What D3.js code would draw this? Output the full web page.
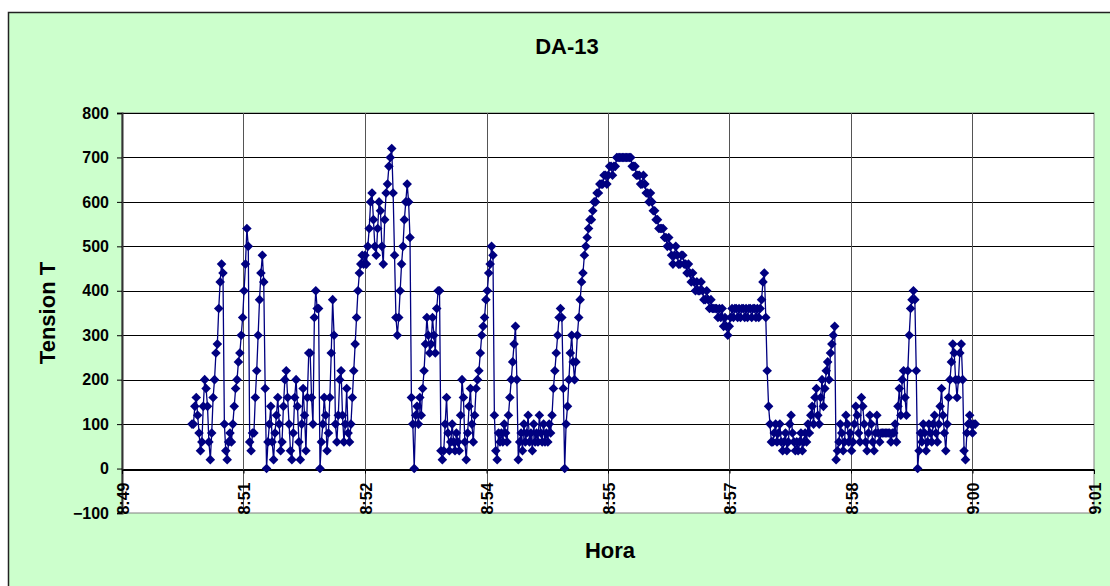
<!DOCTYPE html>
<html>
<head>
<meta charset="utf-8">
<script src="https://cdn.jsdelivr.net/npm/d3@7"></script>
<style>
  body { margin: 0; background: #fff; }
  text { font-family: Arial, "Liberation Sans", sans-serif; font-weight: bold; fill: #000; }
</style>
</head>
<body>
<div id="chart"></div>
<script>
// tension readings, one per second starting at 8:50:45
var tension = [
  100,100,140,160,120,80,40,60,140,200,
  180,140,60,20,80,160,200,260,280,360,
  420,460,440,100,40,20,60,80,60,100,
  140,180,200,240,260,300,340,400,460,540,
  500,60,40,80,80,160,220,300,380,440,
  480,420,180,0,60,100,140,60,20,80,
  120,160,100,40,60,140,200,220,160,100,
  40,20,80,160,200,140,60,20,100,180,
  120,40,160,260,260,160,100,340,400,360,
  360,0,60,100,160,120,40,80,160,260,
  380,300,100,60,120,200,220,120,60,100,
  180,80,60,100,160,220,280,340,400,440,
  460,480,460,480,460,500,540,600,620,560,
  500,480,540,600,580,500,460,560,620,640,
  680,700,720,620,480,340,300,340,400,460,
  500,560,600,640,600,520,160,100,0,120,
  140,100,160,120,180,220,280,340,300,260,
  280,340,300,260,360,400,400,40,20,40,
  100,160,80,40,60,100,60,40,80,60,
  40,120,200,160,60,20,80,140,180,100,
  60,120,180,200,220,260,300,320,340,380,
  400,440,460,500,480,120,40,20,80,60,
  80,60,100,80,60,120,160,200,240,280,
  320,200,20,60,80,40,100,60,80,120,
  60,80,40,100,60,80,60,120,80,60,
  100,60,80,60,100,80,120,180,220,260,
  300,340,360,340,180,0,100,140,200,260,
  300,240,200,240,300,340,380,420,440,480,
  500,520,540,560,560,580,600,600,620,620,
  640,640,640,660,660,640,660,680,680,660,
  680,680,700,700,700,700,700,700,700,700,
  700,700,700,680,680,680,660,660,660,640,
  640,660,640,620,620,600,620,600,580,580,
  560,560,540,540,540,540,520,520,500,520,
  500,480,460,480,500,480,460,460,480,480,
  460,460,440,460,440,420,440,420,400,420,
  400,400,420,400,380,380,400,380,360,380,
  360,360,360,360,340,360,340,360,320,340,
  320,300,320,340,360,340,360,360,340,360,
  340,360,360,340,360,340,360,360,340,360,
  360,340,360,340,360,380,420,440,340,220,
  140,100,60,60,80,100,60,80,100,60,
  40,60,80,40,60,100,120,80,60,40,
  60,40,60,80,40,60,80,60,100,80,
  120,140,100,160,180,120,100,160,200,140,
  180,220,240,200,260,280,300,320,20,40,
  60,100,80,40,60,120,100,60,80,40,
  60,100,140,120,80,60,160,140,100,60,
  40,80,120,100,60,40,80,120,80,60,
  80,80,80,80,80,80,80,60,80,80,
  100,60,140,180,120,200,220,160,120,220,
  300,360,380,400,380,220,0,40,80,60,
  100,80,40,60,100,80,60,100,120,80,
  60,100,140,180,120,80,40,100,160,200,
  240,280,260,200,160,200,260,280,200,40,
  20,80,100,120,100,80,100,100
];
var startClock = [8, 50, 45];        // h, m, s of first reading
var sampleSeconds = 1;

// axes (time axis in fractions of a day, like the spreadsheet)
var xDomainDays = [0.368, 0.376];
var xStepDays = 0.001;
var xTickLabels = ["8:49", "8:51", "8:52", "8:54", "8:55", "8:57", "8:58", "9:00", "9:01"];
var yTickValues = [-100, 0, 100, 200, 300, 400, 500, 600, 700, 800];

var chartTitle = "DA-13";
var xTitle = "Hora";
var yTitle = "Tension T";

/////////////////
///// SETUP /////
/////////////////

var width = 1110, height = 586;
var plot = { left: 122, right: 1094, top: 113, bottom: 513 };
var navy = "#000080";

var svg = d3.select("#chart").append("svg")
  .attr("width", width)
  .attr("height", height);

// chart area (green panel)
svg.append("rect")
  .attr("x", 8.5).attr("y", 12.5)
  .attr("width", 1120).attr("height", 600)
  .style("fill", "#ccffcc")
  .style("stroke", "#222")
  .style("stroke-width", 1.5);

// plot area
svg.append("rect")
  .attr("x", plot.left).attr("y", plot.top)
  .attr("width", plot.right - plot.left).attr("height", plot.bottom - plot.top)
  .style("fill", "#fff")
  .style("stroke", "#808080")
  .style("stroke-width", 1);

var daySec = 86400;
var startSec = startClock[0] * 3600 + startClock[1] * 60 + startClock[2];

var x = d3.scaleLinear()
  .domain([xDomainDays[0] * daySec, xDomainDays[1] * daySec])
  .range([plot.left, plot.right]);

var y = d3.scaleLinear()
  .domain([yTickValues[0], yTickValues[yTickValues.length - 1]])
  .range([plot.bottom, plot.top]);

var xTickValues = xTickLabels.map(function(d, i){
  return (xDomainDays[0] + i * xStepDays) * daySec;
});

var points = tension.map(function(v, i){
  return { t: startSec + i * sampleSeconds, v: v };
});

/////////////////
/// GRIDLINES ///
/////////////////

var grid = svg.append("g").attr("shape-rendering", "crispEdges");

grid.selectAll(".hgrid")
  .data(yTickValues.slice(1)).enter()
  .append("line").attr("class", "hgrid")
  .attr("x1", plot.left).attr("x2", plot.right)
  .attr("y1", function(d){ return Math.round(y(d)) + 0.5; })
  .attr("y2", function(d){ return Math.round(y(d)) + 0.5; })
  .style("stroke", "#000");

grid.selectAll(".vgrid")
  .data(xTickValues.slice(1, -1)).enter()
  .append("line").attr("class", "vgrid")
  .attr("x1", function(d){ return Math.round(x(d)) + 0.5; })
  .attr("x2", function(d){ return Math.round(x(d)) + 0.5; })
  .attr("y1", plot.top).attr("y2", plot.bottom)
  .style("stroke", "#555");

/////////////////
///// AXES //////
/////////////////

var yAxis = svg.append("g")
  .attr("transform", "translate(" + plot.left + ",0)")
  .call(d3.axisLeft(y).tickValues(yTickValues).tickSize(5).tickPadding(8).tickFormat(d3.format("d")));
yAxis.select(".domain").style("stroke", "#333").style("stroke-width", 2);
yAxis.selectAll(".tick line").style("stroke", "#000");
yAxis.selectAll("text").style("font-size", "16px").style("font-family", "Arial, 'Liberation Sans', sans-serif");

var xAxis = svg.append("g")
  .attr("transform", "translate(0," + (Math.round(y(0)) + 0.5) + ")")
  .call(d3.axisBottom(x).tickValues(xTickValues).tickSize(4)
    .tickFormat(function(d, i){ return xTickLabels[i]; }));
xAxis.select(".domain").style("stroke", "#000").attr("shape-rendering", "crispEdges");
xAxis.selectAll(".tick line").style("stroke", "#000");
xAxis.selectAll("text")
  .attr("transform", "translate(6,13) rotate(-90)")
  .attr("x", 0).attr("y", 0).attr("dy", 0)
  .style("text-anchor", "end")
  .style("font-size", "16px")
  .style("font-family", "Arial, 'Liberation Sans', sans-serif");

/////////////////
///// SERIES ////
/////////////////

var line = d3.line()
  .x(function(d){ return x(d.t); })
  .y(function(d){ return y(d.v); });

svg.append("path")
  .datum(points)
  .attr("d", line)
  .style("fill", "none")
  .style("stroke", navy)
  .style("stroke-width", 1.3);

svg.selectAll(".marker")
  .data(points).enter()
  .append("path").attr("class", "marker")
  .attr("d", d3.symbol().type(d3.symbolSquare).size(46))
  .attr("transform", function(d){
    return "translate(" + x(d.t) + "," + y(d.v) + ") rotate(45)";
  })
  .style("fill", navy);

/////////////////
///// TITLES ////
/////////////////

svg.append("text")
  .attr("x", 567).attr("y", 54)
  .attr("text-anchor", "middle")
  .style("font-size", "22px")
  .text(chartTitle);

svg.append("text")
  .attr("x", 610).attr("y", 558)
  .attr("text-anchor", "middle")
  .style("font-size", "22px")
  .text(xTitle);

svg.append("text")
  .attr("transform", "translate(55,313) rotate(-90)")
  .attr("text-anchor", "middle")
  .style("font-size", "22px")
  .text(yTitle);
</script>
</body>
</html>
